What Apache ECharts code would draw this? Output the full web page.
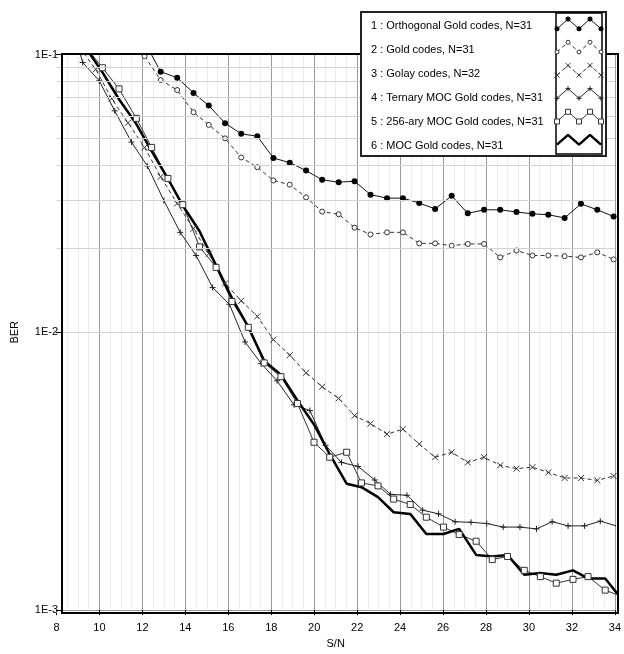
<!DOCTYPE html>
<html>
<head>
<meta charset="utf-8">
<script src="https://cdn.jsdelivr.net/npm/echarts@6/dist/echarts.min.js"></script>
<style>
  html, body { margin: 0; padding: 0; background: #fff; }
  #chart { width: 624px; height: 654px; }
</style>
</head>
<body>
<div id="chart"></div>
<script>
(function (echarts) {
    'use strict';

    const FONT = 'Liberation Sans';

    // S/N sample points (each curve was measured on its own grid)
    const snrGold = [12.10, 12.85, 13.62, 14.38, 15.09, 15.85, 16.60, 17.35, 18.10, 18.86, 19.62, 20.37, 21.14, 21.88, 22.62,
        23.39, 24.13, 24.89, 25.63, 26.40, 27.15, 27.91, 28.66, 29.42, 30.16, 30.90, 31.66, 32.42, 33.18, 33.94];
    const snrGolay = [9.09, 9.83, 10.57, 11.33, 12.10, 12.85, 13.62, 14.38, 15.09, 15.85, 16.60, 17.35, 18.10, 18.86, 19.62,
        20.37, 21.14, 21.88, 22.62, 23.39, 24.13, 24.89, 25.63, 26.40, 27.15, 27.91, 28.66, 29.42, 30.16, 30.90, 31.66,
        32.42, 33.18, 33.94];
    const snrTernary = [8.46, 9.22, 9.99, 10.71, 11.49, 12.23, 13.00, 13.76, 14.50, 15.27, 16.05, 16.78, 17.53, 18.27, 19.06,
        19.80, 20.53, 21.27, 22.04, 22.82, 23.55, 24.32, 25.05, 25.79, 26.56, 27.30, 28.03, 28.80, 29.58, 30.35, 31.08,
        31.82, 32.59, 33.32, 34.06];
    const snrMoc = [9.39, 10.14, 10.91, 11.72, 12.43, 13.19, 13.88, 14.66, 15.43, 16.17, 16.93, 17.67, 18.45, 19.22, 19.99,
        20.72, 21.51, 22.20, 22.97, 23.70, 24.47, 25.22, 26.02, 26.75, 27.54, 28.29, 29.00, 29.78, 30.53, 31.27, 32.05,
        32.75, 33.55, 34.30];

    // BER values
    const berOrthogonal = [0.111, 0.0867, 0.0825, 0.0727, 0.0655, 0.0566, 0.0518, 0.0508, 0.0424, 0.0408, 0.0382, 0.0354,
        0.0347, 0.0350, 0.0313, 0.0304, 0.0304, 0.0292, 0.0278, 0.0310, 0.0268, 0.0276, 0.0276, 0.0271, 0.0267, 0.0265,
        0.0258, 0.0290, 0.0276, 0.0261];
    const berGold = [0.0986, 0.0809, 0.0745, 0.0620, 0.0558, 0.0499, 0.0426, 0.0393, 0.0352, 0.0340, 0.0306, 0.0272,
        0.0266, 0.0238, 0.0225, 0.0229, 0.0229, 0.0209, 0.0209, 0.0205, 0.0208, 0.0208, 0.0186, 0.0197, 0.0189, 0.0189,
        0.0188, 0.0186, 0.0194, 0.0183];
    const berGolay = [0.106, 0.0884, 0.0693, 0.0568, 0.0463, 0.0363, 0.0291, 0.0236, 0.0192, 0.0150, 0.01298, 0.01141,
        0.00941, 0.00827, 0.00715, 0.00637, 0.00578, 0.00501, 0.00469, 0.00430, 0.00448, 0.00396, 0.00355, 0.00370,
        0.00340, 0.00355, 0.00332, 0.00323, 0.00327, 0.00313, 0.00299, 0.00299, 0.00293, 0.00304];
    const berTernary = [0.15, 0.0936, 0.0804, 0.0627, 0.0484, 0.0397, 0.0298, 0.0229, 0.0189, 0.01449, 0.01262, 0.00923,
        0.00772, 0.00669, 0.00548, 0.00523, 0.00392, 0.00340, 0.00329, 0.00294, 0.00261, 0.00259, 0.00229, 0.00222,
        0.00208, 0.00207, 0.00205, 0.00199, 0.00199, 0.00196, 0.00208, 0.00201, 0.00201, 0.00209, 0.00201];
    const ber256 = [0.106, 0.0896, 0.0752, 0.0589, 0.0463, 0.0358, 0.0288, 0.0203, 0.01713, 0.01291, 0.01042, 0.00776,
        0.00692, 0.00554, 0.00402, 0.00355, 0.00370, 0.00287, 0.00280, 0.00251, 0.00240, 0.00216, 0.00199, 0.00187,
        0.00177, 0.00152, 0.00156, 0.00139, 0.00132, 0.00125, 0.00129, 0.00132, 0.00118, 0.00112];
    const berMoc = [0.105, 0.0862, 0.0690, 0.0562, 0.0449, 0.0357, 0.0286, 0.0231, 0.01742, 0.01327, 0.01045, 0.00789,
        0.00703, 0.00568, 0.00466, 0.00364, 0.00285, 0.00277, 0.00255, 0.00225, 0.00222, 0.00188, 0.00188, 0.00196,
        0.00158, 0.00156, 0.00158, 0.00134, 0.00136, 0.00134, 0.00139, 0.00130, 0.00130, 0.00110];

    const seriesNames = [
        '1 : Orthogonal Gold codes, N=31',
        '2 : Gold codes, N=31',
        '3 : Golay codes, N=32',
        '4 : Ternary MOC Gold codes, N=31',
        '5 : 256-ary MOC Gold codes, N=31',
        '6 : MOC Gold codes, N=31'
    ];

    // minor log grid levels
    const minorLevels = [0.002, 0.003, 0.004, 0.005, 0.006, 0.007, 0.008, 0.009,
        0.02, 0.03, 0.04, 0.05, 0.06, 0.07, 0.08, 0.09];

    // zigzag used for the legend samples
    const sampleWave = [0.64, 0.22, 0.64, 0.22, 0.64];

    const X_MARK = 'path://M0,0L10,10M10,0L0,10';
    const PLUS_MARK = 'path://M5,0L5,10M0,5L10,5';

    const styles = [
        { symbol: 'circle', symbolSize: 6, itemStyle: { color: '#000' }, lineStyle: { color: '#111', width: 1 } },
        { symbol: 'circle', symbolSize: 5, itemStyle: { color: '#fff', borderColor: '#333', borderWidth: 1 },
            lineStyle: { color: '#333', width: 1, type: [4, 3] } },
        { symbol: X_MARK, symbolSize: 6, itemStyle: { color: '#fff', borderColor: '#333', borderWidth: 1 },
            lineStyle: { color: '#333', width: 1, type: [4, 3] } },
        { symbol: PLUS_MARK, symbolSize: 6, itemStyle: { color: '#fff', borderColor: '#222', borderWidth: 1 },
            lineStyle: { color: '#222', width: 1 } },
        { symbol: 'rect', symbolSize: 6, itemStyle: { color: '#fff', borderColor: '#333', borderWidth: 1 },
            lineStyle: { color: '#333', width: 1 } },
        { symbol: 'none', symbolSize: 0, itemStyle: { color: '#000' }, lineStyle: { color: '#000', width: 2.5 } }
    ];

    const curves = [
        [snrGold, berOrthogonal],
        [snrGold, berGold],
        [snrGolay, berGolay],
        [snrTernary, berTernary],
        [snrMoc, ber256],
        [snrMoc, berMoc]
    ];

    const pairs = (xs, ys) => xs.map((x, i) => [x, ys[i]]);

    const series = curves.map((c, i) => Object.assign({
        name: seriesNames[i],
        type: 'line',
        xAxisIndex: 0,
        yAxisIndex: 0,
        data: pairs(c[0], c[1]),
        showSymbol: styles[i].symbol !== 'none',
        clip: true,
        silent: true,
        z: 3
    }, styles[i]));

    // minor horizontal grid lines
    series.push({
        type: 'line',
        xAxisIndex: 0,
        yAxisIndex: 0,
        data: [],
        silent: true,
        z: 1,
        markLine: {
            silent: true,
            symbol: 'none',
            label: { show: false },
            animation: false,
            lineStyle: { color: '#d2d2d2', type: 'solid', width: 1 },
            data: minorLevels.map(v => ({ yAxis: v }))
        }
    });

    // legend samples
    styles.forEach((s, i) => {
        series.push(Object.assign({
            type: 'line',
            xAxisIndex: 1,
            yAxisIndex: 2,
            data: sampleWave.map((v, k) => [k, i + v]),
            showSymbol: s.symbol !== 'none',
            silent: true,
            clip: false,
            z: 14
        }, s, { symbolSize: s.symbolSize ? s.symbolSize - 1 : 0 }));
    });

    const legendGraphics = [
        { type: 'rect', z: 12, shape: { x: 361, y: 12, width: 245, height: 144 },
            style: { fill: '#fff', stroke: '#222', lineWidth: 2 } },
        { type: 'rect', z: 13, shape: { x: 556, y: 13, width: 46, height: 141 },
            style: { fill: '#fff', stroke: '#000', lineWidth: 1.5 } }
    ].concat(seriesNames.map((name, i) => ({
        type: 'text', z: 14,
        style: { text: name, x: 371, y: 26 + i * 23.9, fill: '#000', font: '11px ' + FONT, verticalAlign: 'middle' }
    })));

    const chart = echarts.init(document.getElementById('chart'), null, { renderer: 'canvas' });

    chart.setOption({
        animation: false,
        backgroundColor: '#fff',
        textStyle: { fontFamily: FONT },
        grid: [
            { left: 56.5, right: 7, top: 54.5, bottom: 41 },
            { left: 557, top: 14, width: 44, height: 139 }
        ],
        xAxis: [
            {
                type: 'value', gridIndex: 0, min: 8, max: 34, interval: 2,
                name: 'S/N', nameLocation: 'middle', nameGap: 27,
                nameTextStyle: { fontSize: 11, color: '#000', fontFamily: FONT },
                axisLine: { show: false },
                axisTick: { show: true, length: 5, lineStyle: { color: '#000' } },
                axisLabel: { fontSize: 11, color: '#000', margin: 12, fontFamily: FONT },
                splitLine: { show: true, lineStyle: { color: '#999', width: 1 } },
                minorTick: { show: false, splitNumber: 4 },
                minorSplitLine: { show: true, lineStyle: { color: '#ececec', width: 1 } }
            },
            { type: 'value', gridIndex: 1, min: 0, max: 4, show: false }
        ],
        yAxis: [
            {
                type: 'log', logBase: 10, gridIndex: 0, min: 0.001, max: 0.1,
                axisLine: { show: false }, axisTick: { show: false }, axisLabel: { show: false },
                splitLine: { show: true, lineStyle: { color: '#999', width: 1 } }
            },
            {
                type: 'log', logBase: 10, gridIndex: 0, min: 0.001, max: 0.1, position: 'left', offset: -5.5, z: 6,
                name: 'BER', nameLocation: 'middle', nameGap: 42, nameRotate: 90,
                nameTextStyle: { fontSize: 11, color: '#000', fontFamily: FONT },
                axisLine: { show: false },
                axisTick: { show: true, length: 6, lineStyle: { color: '#000' } },
                axisLabel: {
                    fontSize: 11, color: '#000', margin: 4, fontFamily: FONT,
                    formatter: v => '1E' + Math.round(Math.log10(v))
                },
                splitLine: { show: false }
            },
            { type: 'value', gridIndex: 1, min: 0, max: 6, inverse: true, show: false }
        ],
        graphic: [
            // white strip left of the frame, where the axis starts at 8 but the frame does not
            { type: 'rect', z: 2, shape: { x: 55, y: 40, width: 6.5, height: 573 }, style: { fill: '#fff' } },
            // plot frame
            { type: 'rect', z: 10, shape: { x: 62, y: 54, width: 556, height: 559 },
                style: { fill: 'none', stroke: '#000', lineWidth: 2 } }
        ].concat(legendGraphics),
        series: series
    });
})(echarts);
</script>
</body>
</html>
